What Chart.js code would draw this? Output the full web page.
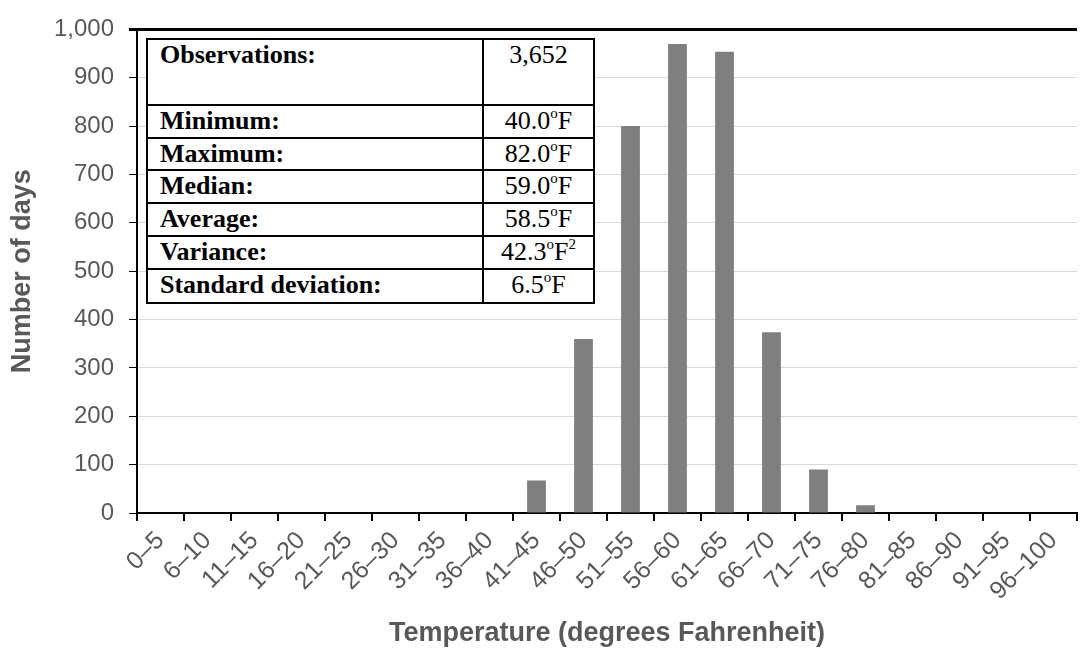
<!DOCTYPE html>
<html>
<head>
<meta charset="utf-8">
<script src="https://cdn.jsdelivr.net/npm/chart.js@4.4.0/dist/chart.umd.min.js"></script>
<style>
  body { margin: 0; background: #fff; }
  #wrap { position: relative; width: 1080px; height: 660px; }
  #stats {
    position: absolute; left: 146px; top: 38px; width: 449px;
    border-collapse: collapse; background: #fff;
    font-family: "Liberation Serif", "Times New Roman", serif; font-size: 26px; color: #000;
  }
  #stats td { border: 2px solid #000; padding: 0 12px; line-height: 29px; vertical-align: top; white-space: nowrap; }
  #stats td.v { text-align: center; font-weight: normal; padding: 0 4px; }
  #stats td.k { font-weight: bold; }
  #stats sup { font-size: 15px; line-height: 0; vertical-align: 11px; }
</style>
</head>
<body>
<div id="wrap">
  <canvas id="myChart" width="1080" height="660"></canvas>
  <table id="stats">
    <tr style="height:66px"><td class="k" style="width:310px">Observations:</td><td class="v">3,652</td></tr>
    <tr style="height:33px"><td class="k">Minimum:</td><td class="v">40.0<sup>o</sup>F</td></tr>
    <tr style="height:32px"><td class="k">Maximum:</td><td class="v">82.0<sup>o</sup>F</td></tr>
    <tr style="height:33px"><td class="k">Median:</td><td class="v">59.0<sup>o</sup>F</td></tr>
    <tr style="height:33px"><td class="k">Average:</td><td class="v">58.5<sup>o</sup>F</td></tr>
    <tr style="height:33px"><td class="k">Variance:</td><td class="v">42.3<sup>o</sup>F<sup>2</sup></td></tr>
    <tr style="height:34px"><td class="k">Standard deviation:</td><td class="v">6.5<sup>o</sup>F</td></tr>
  </table>
</div>
<script>
'use strict';
// temperature bins
let binLabels = ['0–5','6–10','11–15','16–20','21–25','26–30','31–35','36–40','41–45','46–50',
  '51–55','56–60','61–65','66–70','71–75','76–80','81–85','86–90','91–95','96–100'];
// number of days in each bin
let dayCounts = [0,0,0,0,0,0,0,0,67,360,800,970,954,374,90,16,0,0,0,0];
let yMin = 0;
let yMax = 1000;
let yStep = 100;

let grey = '#595959';

let ctx = document.getElementById('myChart').getContext('2d');
let myChart = new Chart(ctx, {
  type: 'bar',
  data: {
    labels: binLabels,
    datasets: [{
      label: 'Number of days',
      data: dayCounts,
      backgroundColor: '#7f7f7f',
      borderWidth: 0,
      categoryPercentage: 1,
      barPercentage: 0.4
    }]
  },
  options: {
    responsive: false,
    animation: false,
    layout: { padding: { left: 0, top: 21, right: 3, bottom: 0 } },
    plugins: { legend: { display: false }, tooltip: { enabled: false } },
    scales: {
      x: {
        offset: true,
        grid: { offset: true, drawOnChartArea: false, drawTicks: true, tickLength: 8, color: '#000', lineWidth: 2 },
        border: { color: '#000', width: 2 },
        ticks: { color: grey, font: { family: 'Liberation Sans', size: 25 }, minRotation: 45, maxRotation: 45, padding: 5, autoSkip: false },
        title: { display: true, text: 'Temperature (degrees Fahrenheit)', color: grey,
          font: { family: 'Liberation Sans', size: 27, weight: 'bold' }, padding: { top: 0, bottom: 10 } },
        afterFit: function (scale) { scale.height = 147; }
      },
      y: {
        min: yMin, max: yMax,
        grid: {
          color: c => (c.tick && c.tick.value === yMax) ? '#000' : '#d9d9d9',
          lineWidth: c => (c.tick && c.tick.value === yMax) ? 3 : 1,
          tickColor: '#000', tickLength: 8, drawTicks: true
        },
        border: { color: '#000', width: 2 },
        ticks: { stepSize: yStep, color: grey, padding: 15, font: { family: 'Liberation Sans', size: 24 },
          callback: v => v.toLocaleString('en-US') },
        title: { display: true, text: 'Number of days', color: grey,
          font: { family: 'Liberation Sans', size: 27, weight: 'bold' }, padding: { top: 6, bottom: 0 } },
        afterFit: function (scale) { scale.width = 137; }
      }
    }
  }
});
</script>
</body>
</html>
